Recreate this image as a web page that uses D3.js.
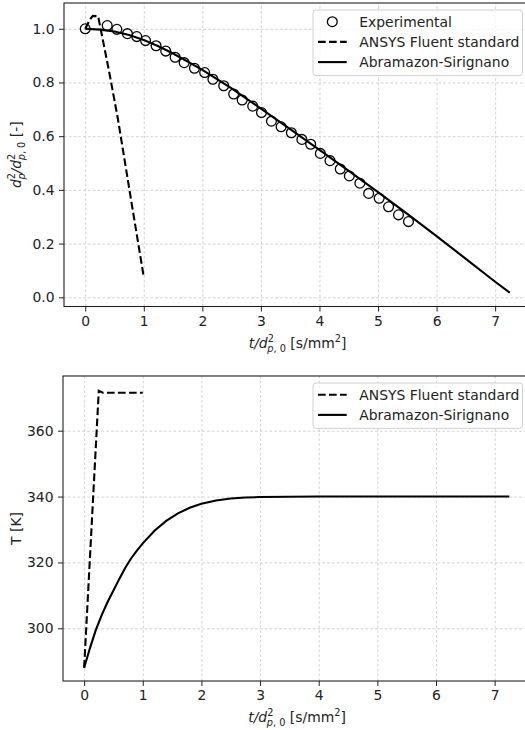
<!DOCTYPE html>
<html lang="en">
<head>
<meta charset="utf-8">
<title>Droplet evaporation</title>
<script src="https://d3js.org/d3.v7.min.js"></script>
<style>
  body { margin: 0; background: #fff; }
  svg { display: block; font-family: "DejaVu Sans", sans-serif; }
  .tick text { font-size: 13.9px; fill: #222; font-family: "DejaVu Sans", sans-serif; }
  .tick line { stroke: #222; }
  .grid line { stroke: #c8c8c8; stroke-dasharray: 2.8,2; stroke-width: 0.8; }
  .grid .domain { display: none; }
</style>
</head>
<body>
<script>
// experimental diameter data
const expTime = [0, 0.375, 0.54, 0.72, 0.88, 1.03, 1.21, 1.375, 1.535, 1.69, 1.865, 2.04, 2.18, 2.365, 2.535,
  2.68, 2.86, 3.01, 3.18, 3.345, 3.52, 3.70, 3.85, 4.015, 4.18, 4.355, 4.51, 4.69, 4.84, 5.02, 5.18, 5.35, 5.52];
const expDiam = [1.0, 1.012, 0.998, 0.982, 0.971, 0.956, 0.937, 0.917, 0.894, 0.874, 0.853, 0.837, 0.812, 0.788, 0.757,
  0.735, 0.712, 0.688, 0.656, 0.635, 0.613, 0.588, 0.570, 0.536, 0.509, 0.478, 0.452, 0.425, 0.387, 0.369, 0.337, 0.307, 0.282];

// ANSYS Fluent standard
const fluentTime = [0, 0.08, 0.13, 0.22, 0.4, 0.556, 0.8, 1.0];
const fluentDiam = [1.0, 1.035, 1.048, 1.047, 0.85, 0.667, 0.34, 0.075];
const fluentTTime = [0, 0.25, 0.32, 1.0];
const fluentTemp = [288, 372.1, 371.5, 371.5];

// Abramzon-Sirignano
const asTime = [0, 0.25, 0.5, 0.75, 1.0, 1.25, 1.5, 1.75, 2.0, 2.5, 3.0, 3.5, 4.0, 4.5, 5.0, 5.5, 6.0, 6.5, 7.0, 7.25];
const asDiam = [1.0, 0.997, 0.99, 0.977, 0.958, 0.935, 0.908, 0.878, 0.847, 0.778, 0.703, 0.626, 0.549, 0.471, 0.392, 0.311, 0.228, 0.143, 0.058, 0.017];
const asTTime = [0, 0.1, 0.2, 0.3, 0.4, 0.5, 0.6, 0.7, 0.8, 0.9, 1.0, 1.2, 1.4, 1.6, 1.8, 2.0, 2.25, 2.5, 2.75, 3.0, 3.5, 4.0, 5.0, 6.0, 7.25];
const asTemp = [288, 294, 299.5, 304, 308, 311.5, 315, 318.3, 321.2, 323.6, 325.8, 329.6, 332.6, 334.9, 336.6, 337.8, 338.8, 339.4, 339.7, 339.85, 339.95, 340, 340, 340, 340];

const xTicks = [0, 1, 2, 3, 4, 5, 6, 7];
const diamTicks = [0.0, 0.2, 0.4, 0.6, 0.8, 1.0];
const tempTicks = [300, 320, 340, 360];

const W = 525, H = 730;
const FS = 13.9;
const svg = d3.select('body').append('svg').attr('width', W).attr('height', H);

const zip = (a, b) => a.map((v, i) => [v, b[i]]);

function panel(opt) {
  const x = d3.scaleLinear().domain(opt.xDomain).range([opt.left, opt.right]);
  const y = d3.scaleLinear().domain(opt.yDomain).range([opt.bottom, opt.top]);
  const g = svg.append('g');

  // grid
  g.append('g').attr('class', 'grid')
    .attr('transform', 'translate(0,' + opt.bottom + ')')
    .call(d3.axisBottom(x).tickValues(xTicks).tickSize(-(opt.bottom - opt.top)).tickFormat(''));
  g.append('g').attr('class', 'grid')
    .attr('transform', 'translate(' + opt.left + ',0)')
    .call(d3.axisLeft(y).tickValues(opt.yTicks).tickSize(-(opt.right - opt.left)).tickFormat(''));

  const clipId = 'clip' + opt.id;
  svg.append('clipPath').attr('id', clipId).append('rect')
    .attr('x', opt.left).attr('y', opt.top)
    .attr('width', opt.right - opt.left).attr('height', opt.bottom - opt.top);
  const plot = g.append('g').attr('clip-path', 'url(#' + clipId + ')');
  const line = d3.line().x(d => x(d[0])).y(d => y(d[1]));

  opt.series.forEach(s => {
    if (s.type === 'line') {
      plot.append('path').datum(s.data)
        .attr('d', line).attr('fill', 'none').attr('stroke', '#000')
        .attr('stroke-width', 2.1)
        .attr('stroke-dasharray', s.dashed ? '7.7,3.3' : null);
    } else {
      plot.selectAll(null).data(s.data).enter().append('circle')
        .attr('cx', d => x(d[0])).attr('cy', d => y(d[1])).attr('r', 4.9)
        .attr('fill', 'none').attr('stroke', '#000').attr('stroke-width', 1.3);
    }
  });

  // spines
  g.append('rect').attr('x', opt.left).attr('y', opt.top)
    .attr('width', opt.right - opt.left).attr('height', opt.bottom - opt.top)
    .attr('fill', 'none').attr('stroke', '#222').attr('stroke-width', 1.1);

  // axes
  const xa = g.append('g').attr('transform', 'translate(0,' + opt.bottom + ')')
    .call(d3.axisBottom(x).tickValues(xTicks).tickSize(5).tickPadding(4.5).tickSizeOuter(0).tickFormat(d3.format('d')));
  xa.select('.domain').remove();
  const ya = g.append('g').attr('transform', 'translate(' + opt.left + ',0)')
    .call(d3.axisLeft(y).tickValues(opt.yTicks).tickSize(5).tickPadding(4.5).tickSizeOuter(0).tickFormat(opt.yFormat));
  ya.select('.domain').remove();

  // x label: t/d^2_{p,0} [s/mm^2]
  const cx = (opt.left + opt.right) / 2;
  const xl = g.append('text').attr('x', cx).attr('y', opt.bottom + 41)
    .attr('text-anchor', 'middle').attr('font-size', FS).attr('fill', '#222');
  xl.append('tspan').attr('font-style', 'italic').text('t/d');
  xl.append('tspan').attr('font-size', FS * 0.7).attr('dy', -6).text('2');
  xl.append('tspan').attr('font-size', FS * 0.7).attr('dx', -6.5).attr('dy', 10)
    .attr('font-style', 'italic').text('p');
  xl.append('tspan').attr('font-size', FS * 0.7).text(', 0');
  xl.append('tspan').attr('dy', -4).text(' [s/mm');
  xl.append('tspan').attr('font-size', FS * 0.7).attr('dy', -6).text('2');
  xl.append('tspan').attr('dy', 6).text(']');

  // y label
  const cy = (opt.top + opt.bottom) / 2;
  const yl = g.append('text').attr('transform', 'translate(21,' + cy + ') rotate(-90)')
    .attr('text-anchor', 'middle').attr('font-size', FS).attr('fill', '#222');
  opt.yLabel(yl);

  // legend
  const lg = g.append('g');
  const rows = opt.legend.length;
  lg.append('rect').attr('x', 313).attr('y', opt.top + 7)
    .attr('width', 209.5).attr('height', 5 + 20.2 * rows)
    .attr('rx', 3).attr('fill', '#fff').attr('fill-opacity', 0.8)
    .attr('stroke', '#d0d0d0').attr('stroke-width', 1);
  opt.legend.forEach((item, i) => {
    const ry = opt.top + 18.7 + i * 20.2;
    if (item.type === 'marker') {
      lg.append('circle').attr('cx', 332.3).attr('cy', ry).attr('r', 4.9)
        .attr('fill', 'none').attr('stroke', '#000').attr('stroke-width', 1.3);
    } else {
      lg.append('line').attr('x1', 318).attr('x2', 346.7).attr('y1', ry).attr('y2', ry)
        .attr('stroke', '#000').attr('stroke-width', 2.1)
        .attr('stroke-dasharray', item.dashed ? '7.7,3.3' : null);
    }
    lg.append('text').attr('x', 359.3).attr('y', ry).attr('dy', '0.36em')
      .attr('font-size', FS).attr('fill', '#222').text(item.label);
  });
}

panel({
  id: 'a', left: 64, right: 531, top: 3, bottom: 306.5,
  xDomain: [-0.3625, 7.6125], yDomain: [-0.0343, 1.0961],
  yTicks: diamTicks, yFormat: d3.format('.1f'),
  series: [
    { type: 'line', dashed: true, data: zip(fluentTime, fluentDiam) },
    { type: 'line', dashed: false, data: zip(asTime, asDiam) },
    { type: 'marker', data: zip(expTime, expDiam) }
  ],
  legend: [
    { type: 'marker', label: 'Experimental' },
    { type: 'line', dashed: true, label: 'ANSYS Fluent standard' },
    { type: 'line', dashed: false, label: 'Abramazon-Sirignano' }
  ],
  yLabel: t => {
    t.append('tspan').attr('font-style', 'italic').text('d');
    t.append('tspan').attr('font-size', FS * 0.7).attr('dy', -6).text('2');
    t.append('tspan').attr('font-size', FS * 0.7).attr('font-style', 'italic').attr('dx', -6.5).attr('dy', 10).text('p');
    t.append('tspan').attr('dy', -4).attr('font-style', 'italic').text('/d');
    t.append('tspan').attr('font-size', FS * 0.7).attr('dy', -6).text('2');
    t.append('tspan').attr('font-size', FS * 0.7).attr('font-style', 'italic').attr('dx', -6.5).attr('dy', 10).text('p');
    t.append('tspan').attr('font-size', FS * 0.7).text(', 0');
    t.append('tspan').attr('dy', -4).text(' [-]');
  }
});

panel({
  id: 'b', left: 63, right: 531, top: 376, bottom: 681,
  xDomain: [-0.36, 7.62], yDomain: [284.0, 376.6],
  yTicks: tempTicks, yFormat: d3.format('d'),
  series: [
    { type: 'line', dashed: true, data: zip(fluentTTime, fluentTemp) },
    { type: 'line', dashed: false, data: zip(asTTime, asTemp) }
  ],
  legend: [
    { type: 'line', dashed: true, label: 'ANSYS Fluent standard' },
    { type: 'line', dashed: false, label: 'Abramazon-Sirignano' }
  ],
  yLabel: t => { t.text('T [K]'); }
});
</script>
</body>
</html>
